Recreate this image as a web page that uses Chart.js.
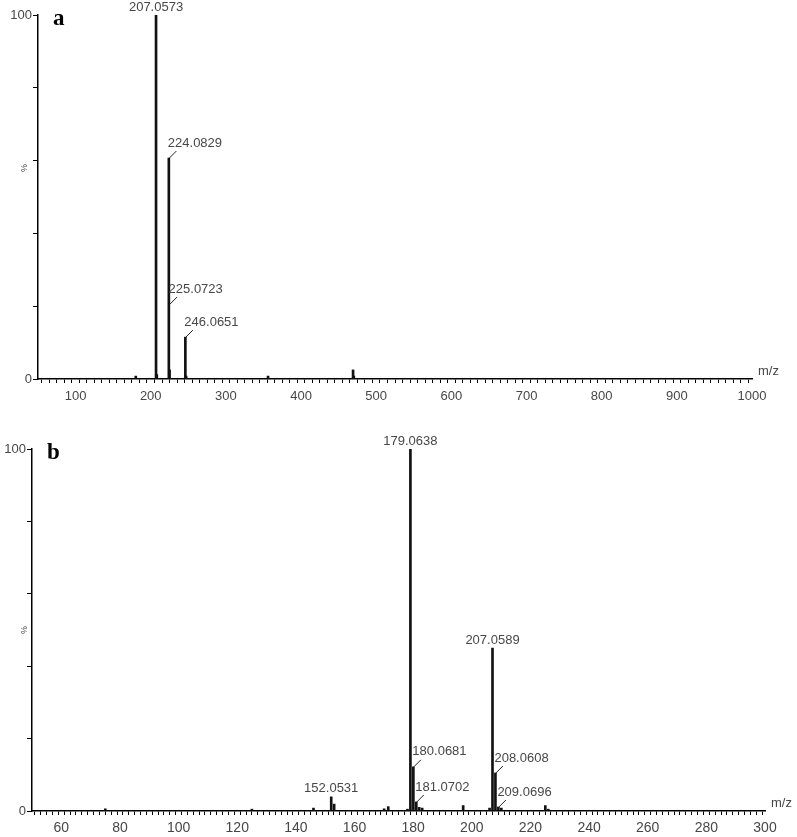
<!DOCTYPE html>
<html lang="en">
<head>
<meta charset="UTF-8">
<title>MS/MS spectra</title>
<script src="https://cdn.jsdelivr.net/npm/chart.js"></script>
<style>
  body { margin: 0; background: #fff; }
  canvas { display: block; }
  .panel { width: 797px; }
</style>
</head>
<body>
<div class="panel" style="height:420px"><canvas id="chartA" width="797" height="410"></canvas></div>
<div class="panel" style="height:417px"><canvas id="chartB" width="797" height="417"></canvas></div>
<script>
// panel a: full scan, m/z 50-1000
const mzA  = [180.1, 207.0573, 208.06, 224.0829, 225.0723, 246.0651, 247.07, 356.1, 469.2, 470.2];
const intA = [0.8,   100,      1.2,    60.7,     2.5,      11.5,     0.8,    0.8,   2.5,   0.8];
const labelMzA = [207.0573, 224.0829, 225.0723, 246.0651];
const labelAtA = [100, 60.7, 20.6, 11.5];          // % height the label hangs from
const leaderA  = [false, true, true, true];

// panel b: product ions, m/z 50-300
const mzB  = [75.0, 125.0, 146.0, 152.0531, 153.05, 170.1, 171.5, 178.06, 179.0638, 180.0681, 181.0702,
              182.07, 183.08, 197.06, 206.06, 207.0589, 208.0608, 209.0696, 210.07, 225.07, 226.07];
const intB = [0.6,  0.5,   0.8,   3.9,      1.9,    0.6,   1.2,   0.5,    100,      12.2,     2.5,
              1.0,    0.8,    1.5,    0.8,    45,       10.5,     1.1,      0.8,    1.5,    0.5];
const labelMzB = [152.0531, 179.0638, 180.0681, 181.0702, 207.0589, 208.0608, 209.0696];
const labelAtB = [3.9, 100, 12.2, 2.5, 45, 10.5, 1.1];
const leaderB  = [false, false, true, true, false, true, true];

const TEXT = '#474747';
const FONT = '"Liberation Sans", Arial, sans-serif';

function labelPlugin(cfg) {
  return {
    id: 'peakLabels',
    afterDatasetsDraw(chart) {
      const { ctx, chartArea } = chart;
      const x = chart.scales.x, y = chart.scales.y;
      ctx.save();
      ctx.fillStyle = TEXT;
      ctx.strokeStyle = '#222';
      ctx.lineWidth = 1;
      ctx.font = '13px ' + FONT;
      ctx.textBaseline = 'middle';
      cfg.mz.forEach((m, i) => {
        const px = x.getPixelForValue(m);
        const py = y.getPixelForValue(cfg.at[i]);
        const text = m.toFixed(4);
        if (cfg.leader[i]) {
          ctx.beginPath();
          ctx.moveTo(px + 0.5, py);
          ctx.lineTo(px + 7.5, py - 7);
          ctx.stroke();
          ctx.textAlign = 'left';
          ctx.fillText(text, px - 1, py - 15);
        } else {
          ctx.textAlign = 'center';
          ctx.fillText(text, px, py - 8);
        }
      });
      // m/z at the end of the axis
      ctx.textAlign = 'left';
      ctx.textBaseline = 'alphabetic';
      ctx.fillText('m/z', chartArea.right + 6, chartArea.bottom - 4);
      // tiny rotated % on the y axis
      ctx.save();
      ctx.font = '9px ' + FONT;
      ctx.translate(27, y.getPixelForValue(cfg.pctAt));
      ctx.rotate(-Math.PI / 2);
      ctx.textAlign = 'center';
      ctx.fillText('%', 0, 0);
      ctx.restore();
      // panel letter
      ctx.fillStyle = '#000';
      ctx.font = 'bold 23px "Liberation Serif", "Times New Roman", serif';
      ctx.fillText(cfg.tag, chartArea.left + 15, chartArea.top + 10);
      ctx.restore();
    }
  };
}

function makeSpectrum(id, mz, inten, s, labels) {
  const points = mz.map((m, i) => ({ x: m, y: inten[i] }));
  return new Chart(document.getElementById(id), {
    type: 'bar',
    data: {
      datasets: [{
        data: points,
        backgroundColor: '#111',
        barThickness: 2,
        borderWidth: 0
      }]
    },
    options: {
      responsive: false,
      animation: false,
      layout: { padding: { left: 0, top: s.top, right: s.right, bottom: 0 } },
      plugins: { legend: { display: false }, tooltip: { enabled: false } },
      scales: {
        x: {
          type: 'linear',
          min: s.xmin,
          max: s.xmax,
          offset: false,
          afterFit: sc => { sc.height = s.xh; },
          border: { display: true, color: '#000', width: 1.5 },
          grid: { drawOnChartArea: false, drawTicks: true, tickLength: 4, color: '#000' },
          ticks: {
            stepSize: s.minor,
            autoSkip: false,
            maxRotation: 0,
            padding: s.xpad,
            color: TEXT,
            font: { family: FONT, size: s.xfont },
            callback: v => (Math.abs(v % s.major) < 1e-6 && v > s.xmin) ? String(Math.round(v)) : ''
          }
        },
        y: {
          min: 0,
          max: 100,
          afterFit: sc => { sc.width = s.yw; },
          border: { display: true, color: '#000', width: 1.5 },
          grid: { drawOnChartArea: false, drawTicks: true, tickLength: 5, color: '#000' },
          ticks: {
            stepSize: 20,
            padding: 1,
            color: TEXT,
            font: { family: FONT, size: 13 },
            callback: v => (v === 0 || v === 100) ? String(v) : ''
          }
        }
      }
    },
    plugins: [labelPlugin(labels)]
  });
}

makeSpectrum('chartA', mzA, intA,
  { top: 15, right: 45, xh: 31, yw: 38, xmin: 50, xmax: 1000, minor: 10, major: 100, xpad: 6, xfont: 13 },
  { mz: labelMzA, at: labelAtA, leader: leaderA, tag: 'a', pctAt: 58 });

makeSpectrum('chartB', mzB, intB,
  { top: 29, right: 32, xh: 26, yw: 32, xmin: 50, xmax: 300, minor: 2, major: 20, xpad: 5, xfont: 14 },
  { mz: labelMzB, at: labelAtB, leader: leaderB, tag: 'b', pctAt: 50 });
</script>
</body>
</html>
